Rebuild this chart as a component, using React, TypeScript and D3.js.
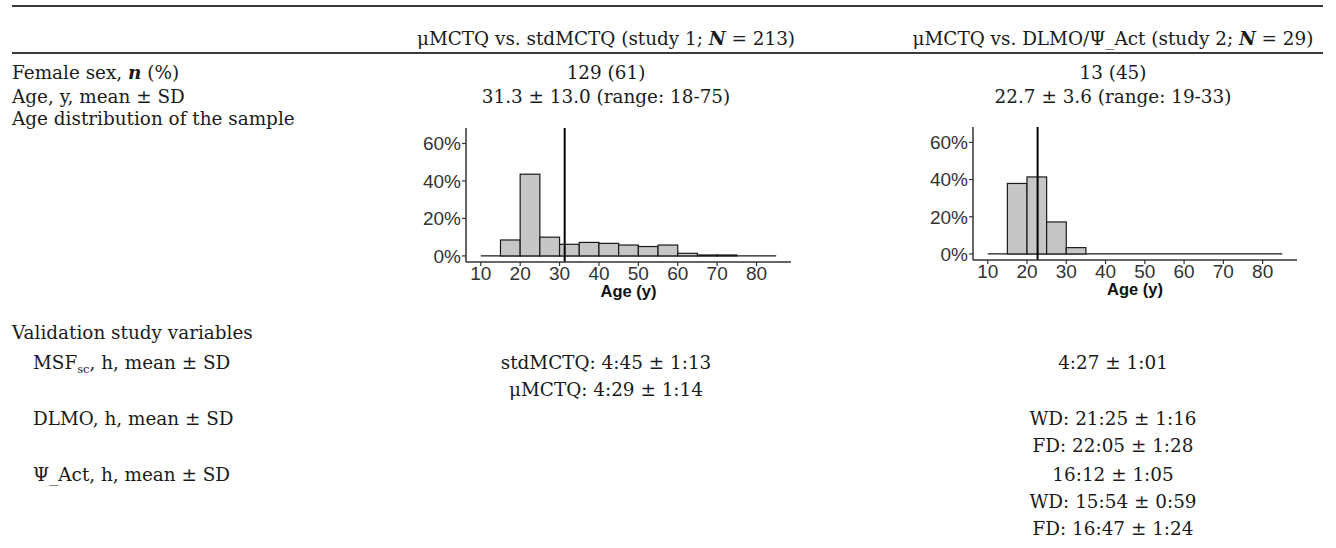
import React from "react";
import * as d3 from "d3";

// ---------- data ----------
const headers = [
  "μMCTQ vs. stdMCTQ (study 1; ",
  "μMCTQ vs. DLMO/Ψ_Act (study 2; ",
];
const sampleSizes = [213, 29];
const femaleSex = ["129 (61)", "13 (45)"];
const ageText = ["31.3 ± 13.0 (range: 18-75)", "22.7 ± 3.6 (range: 19-33)"];
const ageMeans = [31.3, 22.7];
const binStarts = [10, 15, 20, 25, 30, 35, 40, 45, 50, 55, 60, 65, 70, 75, 80];
const binWidth = 5;
const study1Pct = [0, 8.5, 43.6, 10.0, 6.2, 7.2, 6.7, 5.8, 5.0, 5.8, 1.4, 0.5, 0.5, 0, 0];
const study2Pct = [0, 37.9, 41.4, 17.2, 3.4, 0, 0, 0, 0, 0, 0, 0, 0, 0, 0];
const xTicks = [10, 20, 30, 40, 50, 60, 70, 80];
const yTicks = [0, 20, 40, 60];
const yTickLabels = ["0%", "20%", "40%", "60%"];
const msfStudy1 = ["stdMCTQ: 4:45 ± 1:13", "μMCTQ: 4:29 ± 1:14"];
const msfStudy2 = ["4:27 ± 1:01"];
const dlmoStudy2 = ["WD: 21:25 ± 1:16", "FD: 22:05 ± 1:28"];
const psiStudy2 = ["16:12 ± 1:05", "WD: 15:54 ± 0:59", "FD: 16:47 ± 1:24"];

const SERIF = "'DejaVu Serif', serif";
const SANS = "'Liberation Sans', Arial, sans-serif";
const FS = 18.4;

type HistProps = {
  left: number;
  top: number;
  width: number;
  height: number;
  pct: number[];
  mean: number;
};

function Histogram({ left, top, width, height, pct, mean }: HistProps) {
  const xMin = binStarts[0];
  const xMax = binStarts[binStarts.length - 1] + binWidth;
  const xPad = (xMax - xMin) * 0.05;
  const x = d3.scaleLinear().domain([xMin - xPad, xMax + xPad]).range([left, left + width]);
  const yLim = [0, 65];
  const yPad = (yLim[1] - yLim[0]) * 0.05;
  const y = d3.scaleLinear().domain([yLim[0] - yPad, yLim[1] + yPad]).range([top + height, top]);
  const bottom = top + height;
  return (
    <g>
      <line x1={x(xMin)} x2={x(xMax)} y1={y(0)} y2={y(0)} stroke="#1a1a1a" strokeWidth={1.2} />
      {binStarts.map((b, i) =>
        pct[i] > 0 ? (
          <rect
            key={b}
            x={x(b)}
            y={y(pct[i])}
            width={x(b + binWidth) - x(b)}
            height={y(0) - y(pct[i])}
            fill="#c6c6c6"
            stroke="#1a1a1a"
            strokeWidth={1.2}
          />
        ) : null
      )}
      <line x1={x(mean)} x2={x(mean)} y1={top} y2={bottom} stroke="#000" strokeWidth={2} />
      {/* axes */}
      <line x1={left} x2={left} y1={top} y2={bottom} stroke="#333" strokeWidth={1.5} />
      <line x1={left} x2={left + width} y1={bottom} y2={bottom} stroke="#333" strokeWidth={1.5} />
      {yTicks.map((t, i) => (
        <g key={t}>
          <line x1={left - 4} x2={left} y1={y(t)} y2={y(t)} stroke="#333" strokeWidth={1.2} />
          <text
            x={left - 5}
            y={y(t)}
            dy="0.36em"
            textAnchor="end"
            fontFamily={SANS}
            fontSize={19}
            fill="#333"
          >
            {yTickLabels[i]}
          </text>
        </g>
      ))}
      {xTicks.map((t) => (
        <g key={t}>
          <line x1={x(t)} x2={x(t)} y1={bottom} y2={bottom + 4} stroke="#333" strokeWidth={1.2} />
          <text
            x={x(t)}
            y={bottom + 18}
            textAnchor="middle"
            fontFamily={SANS}
            fontSize={19}
            fill="#333"
          >
            {t}
          </text>
        </g>
      ))}
      <text
        x={(x(xMin - xPad) + x(xMax + xPad)) / 2}
        y={bottom + 35}
        textAnchor="middle"
        fontFamily={SANS}
        fontWeight="bold"
        fontSize={16.5}
        fill="#111"
      >
        Age (y)
      </text>
    </g>
  );
}

export default function App() {
  const W = 1336;
  const H = 548;
  const col = [606, 1113];
  const lx = 12;
  const ix = 33;
  const rowY = {
    header: 45,
    female: 79,
    age: 103,
    ageDist: 125,
    validation: 339,
    msf: 369,
    dlmo: 425,
    psi: 481,
  };
  const lh = 27;
  const txt = { fontFamily: SERIF, fontSize: FS, fill: "#1a1a1a" } as const;

  return (
    <svg
      width={W}
      height={H}
      style={{ position: "absolute", left: 0, top: 0, background: "#fff" }}
    >
      <rect width={W} height={H} fill="#fff" />
      {/* rules */}
      <line x1={12} x2={1323} y1={6} y2={6} stroke="#3a3a3a" strokeWidth={1.8} />
      <line x1={12} x2={1323} y1={53} y2={53} stroke="#3a3a3a" strokeWidth={1.8} />

      {/* header */}
      {headers.map((h, i) => (
        <text key={i} x={col[i]} y={rowY.header} textAnchor="middle" {...txt}>
          {h}
          <tspan fontWeight="bold" fontStyle="italic">N</tspan>
          {` = ${sampleSizes[i]})`}
        </text>
      ))}

      {/* row labels */}
      <text x={lx} y={rowY.female} {...txt}>
        Female sex, <tspan fontWeight="bold" fontStyle="italic">n</tspan> (%)
      </text>
      <text x={lx} y={rowY.age} {...txt}>Age, y, mean ± SD</text>
      <text x={lx} y={rowY.ageDist} {...txt}>Age distribution of the sample</text>
      <text x={lx} y={rowY.validation} {...txt}>Validation study variables</text>
      <text x={ix} y={rowY.msf} {...txt}>
        MSF<tspan fontSize={11.5} dy={4}>sc</tspan>
        <tspan dy={-4}>, h, mean ± SD</tspan>
      </text>
      <text x={ix} y={rowY.dlmo} {...txt}>DLMO, h, mean ± SD</text>
      <text x={ix} y={rowY.psi} {...txt}>Ψ_Act, h, mean ± SD</text>

      {/* values */}
      {femaleSex.map((v, i) => (
        <text key={"f" + i} x={col[i]} y={rowY.female} textAnchor="middle" {...txt}>{v}</text>
      ))}
      {ageText.map((v, i) => (
        <text key={"a" + i} x={col[i]} y={rowY.age} textAnchor="middle" {...txt}>{v}</text>
      ))}
      {msfStudy1.map((v, i) => (
        <text key={"m1" + i} x={col[0]} y={rowY.msf + i * lh} textAnchor="middle" {...txt}>{v}</text>
      ))}
      {msfStudy2.map((v, i) => (
        <text key={"m2" + i} x={col[1]} y={rowY.msf + i * lh} textAnchor="middle" {...txt}>{v}</text>
      ))}
      {dlmoStudy2.map((v, i) => (
        <text key={"d" + i} x={col[1]} y={rowY.dlmo + i * lh} textAnchor="middle" {...txt}>{v}</text>
      ))}
      {psiStudy2.map((v, i) => (
        <text key={"p" + i} x={col[1]} y={rowY.psi + i * lh} textAnchor="middle" {...txt}>{v}</text>
      ))}

      {/* histograms */}
      <Histogram left={466} top={128} width={325} height={134} pct={study1Pct} mean={ageMeans[0]} />
      <Histogram left={973} top={127} width={324} height={133} pct={study2Pct} mean={ageMeans[1]} />
    </svg>
  );
}
